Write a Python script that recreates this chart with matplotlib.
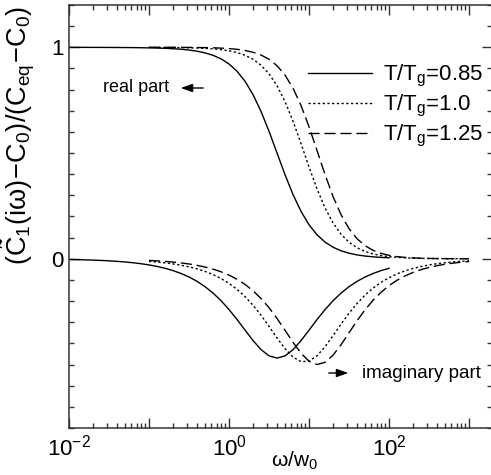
import numpy as np
import matplotlib
matplotlib.use("Agg")
import matplotlib.pyplot as plt
from matplotlib.ticker import FixedLocator, FuncFormatter, MultipleLocator, NullFormatter

plt.rcParams['font.family'] = ['Liberation Sans', 'DejaVu Sans']
plt.rcParams['mathtext.fontset'] = 'custom'
plt.rcParams['mathtext.rm'] = 'Liberation Sans'
plt.rcParams['mathtext.it'] = 'Liberation Sans:italic'
plt.rcParams['mathtext.sf'] = 'Liberation Sans'
plt.rcParams['mathtext.bf'] = 'Liberation Sans:bold'

# frequency samples, omega / w0
w_085 = np.logspace(-2, 2, 41)
w_hi = np.logspace(-1, 3, 41)

# T/Tg = 0.85
real_085 = [0.9998, 0.9997, 0.9997, 0.9996, 0.9995, 0.9993, 0.9991, 0.9988, 0.9985, 0.9980,
            0.9973, 0.9964, 0.9952, 0.9933, 0.9908, 0.9870, 0.9816, 0.9736, 0.9621, 0.9453,
            0.9211, 0.8867, 0.8393, 0.7762, 0.6965, 0.6025, 0.5000, 0.3975, 0.3035, 0.2239,
            0.1608, 0.1133, 0.0789, 0.0547, 0.0379, 0.0264, 0.0184, 0.0130, 0.0093, 0.0067, 0.0049]
imag_085 = [-0.0032, -0.0040, -0.0050, -0.0062, -0.0077, -0.0096, -0.0120, -0.0150, -0.0186, -0.0232,
            -0.0289, -0.0360, -0.0449, -0.0558, -0.0694, -0.0861, -0.1066, -0.1318, -0.1621, -0.1981,
            -0.2401, -0.2870, -0.3372, -0.3866, -0.4294, -0.4589, -0.4695, -0.4589, -0.4294, -0.3866,
            -0.3372, -0.2871, -0.2400, -0.1981, -0.1621, -0.1318, -0.1067, -0.0861, -0.0694, -0.0558, -0.0449]

# T/Tg = 1.0
real_100 = [0.9996, 0.9994, 0.9992, 0.9988, 0.9984, 0.9977, 0.9966, 0.9950, 0.9926, 0.9890,
            0.9835, 0.9751, 0.9624, 0.9433, 0.9152, 0.8746, 0.8181, 0.7432, 0.6503, 0.5442,
            0.4338, 0.3298, 0.2404, 0.1692, 0.1160, 0.0782, 0.0522, 0.0346, 0.0230, 0.0152,
            0.0102, 0.0068, 0.0046, 0.0032, 0.0022, 0.0015, 0.0011, 0.0008, 0.0006, 0.0004, 0.0003]
imag_100 = [-0.0123, -0.0154, -0.0193, -0.0242, -0.0303, -0.0380, -0.0476, -0.0597, -0.0746, -0.0933,
            -0.1163, -0.1446, -0.1789, -0.2197, -0.2670, -0.3196, -0.3742, -0.4253, -0.4652, -0.4864,
            -0.4839, -0.4585, -0.4157, -0.3633, -0.3087, -0.2570, -0.2110, -0.1715, -0.1384, -0.1113,
            -0.0892, -0.0714, -0.0571, -0.0455, -0.0364, -0.0290, -0.0231, -0.0184, -0.0147, -0.0117, -0.0093]

# T/Tg = 1.25
real_125 = [1.0000, 1.0000, 0.9999, 0.9998, 0.9996, 0.9994, 0.9990, 0.9985, 0.9976, 0.9962,
            0.9940, 0.9905, 0.9851, 0.9766, 0.9634, 0.9432, 0.9128, 0.8685, 0.8065, 0.7245,
            0.6240, 0.5115, 0.3978, 0.2942, 0.2083, 0.1423, 0.0948, 0.0620, 0.0400, 0.0256,
            0.0163, 0.0104, 0.0066, 0.0042, 0.0026, 0.0017, 0.0010, 0.0007, 0.0004, 0.0003, 0.0002]
imag_125 = [-0.0078, -0.0098, -0.0123, -0.0155, -0.0195, -0.0245, -0.0309, -0.0389, -0.0489, -0.0614,
            -0.0772, -0.0968, -0.1212, -0.1512, -0.1878, -0.2315, -0.2821, -0.3380, -0.3950, -0.4467,
            -0.4845, -0.5000, -0.4895, -0.4557, -0.4061, -0.3494, -0.2929, -0.2411, -0.1960, -0.1580,
            -0.1267, -0.1013, -0.0808, -0.0643, -0.0512, -0.0407, -0.0323, -0.0257, -0.0204, -0.0162, -0.0129]

labels = [r'T/T$_{\rm g}$=0.85', r'T/T$_{\rm g}$=1.0', r'T/T$_{\rm g}$=1.25']

W, H = 491, 475
fig = plt.figure(figsize=(W / 100, H / 100), dpi=100)
ax = fig.add_axes([69 / W, 47 / H, 422.5 / W, 423 / H])

lw = 1.0
solid_style = dict(color='black', lw=lw, linestyle='-')
dot_style = dict(color='black', lw=lw, linestyle=(0, (1.6, 1.8)))
dash_style = dict(color='black', lw=lw, linestyle=(0, (8, 3.5)))

h1, = ax.plot(w_085, real_085, **solid_style)
ax.plot(w_085, imag_085, **solid_style)
h2, = ax.plot(w_hi, real_100, **dot_style)
ax.plot(w_hi, imag_100, **dot_style)
h3, = ax.plot(w_hi, real_125, **dash_style)
ax.plot(w_hi, imag_125, **dash_style)

ax.set_xscale('log')
ax.set_xlim(1e-2, 10 ** 3.28)
ax.set_ylim(-0.8, 1.2)

spine_color = '#333333'
for s in ax.spines.values():
    s.set_color(spine_color)
    s.set_linewidth(1.1)

ax.xaxis.set_major_locator(FixedLocator([10.0 ** k for k in range(-2, 4)]))
ax.xaxis.set_major_formatter(FuncFormatter(
    lambda v, p: r'$10^{%d}$' % round(np.log10(v)) if round(np.log10(v)) % 2 == 0 else ''))
ax.xaxis.set_minor_locator(FixedLocator([m * 10.0 ** k for k in range(-2, 4) for m in range(2, 10)]))
ax.xaxis.set_minor_formatter(NullFormatter())

ax.yaxis.set_major_locator(FixedLocator([0, 1]))
ax.yaxis.set_major_formatter(FuncFormatter(lambda v, p: '%d' % round(v)))
ax.yaxis.set_minor_locator(MultipleLocator(0.1))

ax.tick_params(which='both', direction='in', top=True, right=True, color=spine_color,
               labelsize=16, width=1.0)
ax.tick_params(which='major', length=7)
ax.tick_params(which='minor', length=3.5)
ax.tick_params(axis='x', which='major', pad=5)
ax.tick_params(axis='y', which='major', pad=4)

ax.set_xlabel(r'$\mathrm{\omega}$/w$_0$', fontsize=15)
ax.xaxis.set_label_coords((294 - 69) / 422.5, (428 - 450) / 423)
ax.set_ylabel(r'$(\tilde{\rm C}_1({\rm i}\mathrm{\omega})\!-\!{\rm C}_0)/({\rm C}_{\rm eq}\!-\!{\rm C}_0)$',
              fontsize=19.5)
ax.yaxis.set_label_coords((37 - 69) / 422.5, (428 - 135) / 423)

ax.legend([h1, h2, h3], labels, loc='upper left',
          bbox_to_anchor=((308 - 69) / 422.5, (428 - 63) / 423),
          frameon=False, fontsize=16, handlelength=2.88, handletextpad=0.5,
          labelspacing=0.18, borderpad=0, borderaxespad=0)

def fp(x, y):
    return (x, H - y)

fig.text(103 / W, 1 - 88 / H, 'real part', fontsize=13, ha='left', va='center')
ax.annotate('', xy=fp(178, 88), xytext=fp(206, 88), xycoords='figure pixels',
            textcoords='figure pixels',
            arrowprops=dict(arrowstyle='-|>,head_length=0.7,head_width=0.25', color='black', lw=1.0))
fig.text(362 / W, 1 - 373 / H, 'imaginary part', fontsize=13.5, ha='left', va='center')
ax.annotate('', xy=fp(351, 373), xytext=fp(326, 373), xycoords='figure pixels',
            textcoords='figure pixels',
            arrowprops=dict(arrowstyle='-|>,head_length=0.7,head_width=0.25', color='black', lw=1.0))

fig.savefig('out.png', dpi=100)
